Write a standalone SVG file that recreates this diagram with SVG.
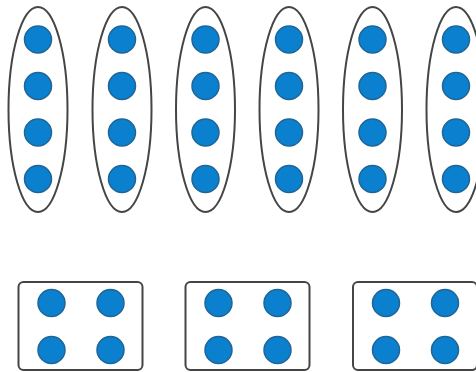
<svg xmlns="http://www.w3.org/2000/svg" width="476" height="372" viewBox="0 0 476 372">
<style>
.g{fill:none;stroke:#454545;stroke-width:2}
.d{fill:#0a80cf;stroke:#1f6595;stroke-width:1.5}
</style>
<defs>
<g id="col">
<ellipse class="g" cx="0" cy="109.5" rx="29.5" ry="102.5"/>
<circle class="d" cx="0" cy="39.5" r="13.5"/>
<circle class="d" cx="0" cy="86" r="13.5"/>
<circle class="d" cx="0" cy="132.5" r="13.5"/>
<circle class="d" cx="0" cy="179" r="13.5"/>
</g>
<g id="box">
<rect class="g" x="0" y="0" width="124" height="88" rx="5"/>
<circle class="d" cx="33" cy="21" r="13.5"/>
<circle class="d" cx="92" cy="21" r="13.5"/>
<circle class="d" cx="33" cy="68" r="13.5"/>
<circle class="d" cx="92" cy="68" r="13.5"/>
</g>
</defs>
<rect width="476" height="372" fill="#fff"/>
<g id="group1"><use href="#col" x="38"/></g>
<g id="group2"><use href="#col" x="122"/></g>
<g id="group3"><use href="#col" x="205.5"/></g>
<g id="group4"><use href="#col" x="289"/></g>
<g id="group5"><use href="#col" x="372.5"/></g>
<g id="group6"><use href="#col" x="456"/></g>
<g id="box1"><use href="#box" x="18.5" y="282"/></g>
<g id="box2"><use href="#box" x="185.5" y="282"/></g>
<g id="box3"><use href="#box" x="353" y="282"/></g>
<g id="connectors"></g>
</svg>
